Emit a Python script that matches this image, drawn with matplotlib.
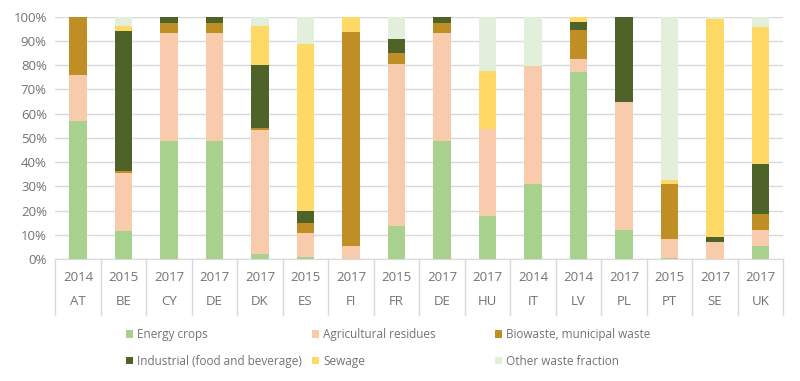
# Stacked share of biogas feedstock per country (multi-level x axis)

import matplotlib.pyplot as plt
import numpy as np

years = ['2014', '2015', '2017', '2017', '2017', '2015', '2017', '2015',
         '2017', '2017', '2014', '2014', '2017', '2015', '2017', '2017']
countries = ['AT', 'BE', 'CY', 'DE', 'DK', 'ES', 'FI', 'FR',
             'DE', 'HU', 'IT', 'LV', 'PL', 'PT', 'SE', 'UK']

# shares in percent, one list per feedstock
energy_crops = [57, 11.6, 48.7, 48.7, 2.1, 0.7, 0, 13.8,
                48.7, 17.7, 30.8, 77.3, 12.1, 0.6, 0, 5.6]
agri_residues = [19, 23.8, 44.4, 44.4, 51.1, 9.9, 5.5, 66.9,
                 44.4, 35.8, 49.0, 5.1, 52.8, 7.8, 6.9, 6.6]
biowaste = [24, 1.1, 4.3, 4.3, 0.9, 4.1, 88.3, 4.2,
            4.3, 0, 0, 12.2, 0, 22.7, 0, 6.6]
industrial = [0, 57.7, 2.6, 2.6, 26.2, 5.0, 0, 5.9,
              2.6, 0, 0, 3.3, 35.1, 0, 2.3, 20.5]
sewage = [0, 1.9, 0, 0, 15.8, 69.0, 6.2, 0,
          0, 24.2, 0, 2.1, 0, 1.4, 89.8, 56.6]
other = [0, 3.9, 0, 0, 3.9, 11.3, 0, 9.2,
         0, 22.3, 20.2, 0, 0, 67.5, 1.0, 4.1]

series = [
    ('Energy crops', energy_crops, '#A9D18E'),
    ('Agricultural residues', agri_residues, '#F8CBAD'),
    ('Biowaste, municipal waste', biowaste, '#BF8F26'),
    ('Industrial (food and beverage)', industrial, '#4F6228'),
    ('Sewage', sewage, '#FFD966'),
    ('Other waste fraction', other, '#E2EFDA'),
]

plt.rcParams['font.family'] = ['Open Sans', 'DejaVu Sans']
txt_color = '#737373'
line_color = '#D9D9D9'
fs = 8.5

fig = plt.figure(figsize=(8, 3.81), dpi=100)
ax = fig.add_axes([0.069, 0.32, 0.91, 0.636])

x = np.arange(len(countries))
bottom = np.zeros(len(countries))
handles = {}
for name, vals, col in series:
    vals = np.array(vals, dtype=float)
    b = ax.bar(x, vals, 0.39, bottom=bottom, color=col, label=name, zorder=3)
    handles[name] = b
    bottom += vals

ax.set_xlim(-0.5, len(countries) - 0.5)
ax.set_ylim(0, 100)
ax.set_yticks(np.arange(0, 101, 10))
ax.set_yticklabels(['{}%'.format(v) for v in range(0, 101, 10)])
ax.tick_params(axis='y', length=0, colors=txt_color, labelsize=9.5, pad=6)
ax.set_xticks([])
ax.grid(axis='y', color=line_color, lw=1, zorder=0)
for s in ['top', 'right', 'left']:
    ax.spines[s].set_visible(False)
ax.spines['bottom'].set_color(line_color)

# Multi-level category labels under the axis
trans = ax.get_xaxis_transform()
for i in range(len(countries)):
    ax.text(i, -0.075, years[i], transform=trans, ha='center', va='center',
            color=txt_color, fontsize=9.5)
    ax.text(i, -0.175, countries[i], transform=trans, ha='center', va='center',
            color=txt_color, fontsize=9.5)
for edge in np.arange(-0.5, len(countries), 1.0):
    ax.plot([edge, edge], [0, -0.23], transform=trans, color=line_color,
            lw=1, clip_on=False)

# Legend: three columns of two rows, placed like the original
columns = [
    (126, ['Energy crops', 'Industrial (food and beverage)']),
    (312, ['Agricultural residues', 'Sewage']),
    (495, ['Biowaste, municipal waste', 'Other waste fraction']),
]
for xpix, names in columns:
    leg = fig.legend([handles[n] for n in names], names, loc='center left',
                     bbox_to_anchor=(xpix / 800, 1 - 348 / 381),
                     frameon=False, fontsize=fs, handlelength=0.6,
                     handleheight=0.6, handletextpad=0.35, borderpad=0,
                     borderaxespad=0, labelspacing=1.15)
    for t in leg.get_texts():
        t.set_color(txt_color)

plt.savefig('out.png', dpi=100)
